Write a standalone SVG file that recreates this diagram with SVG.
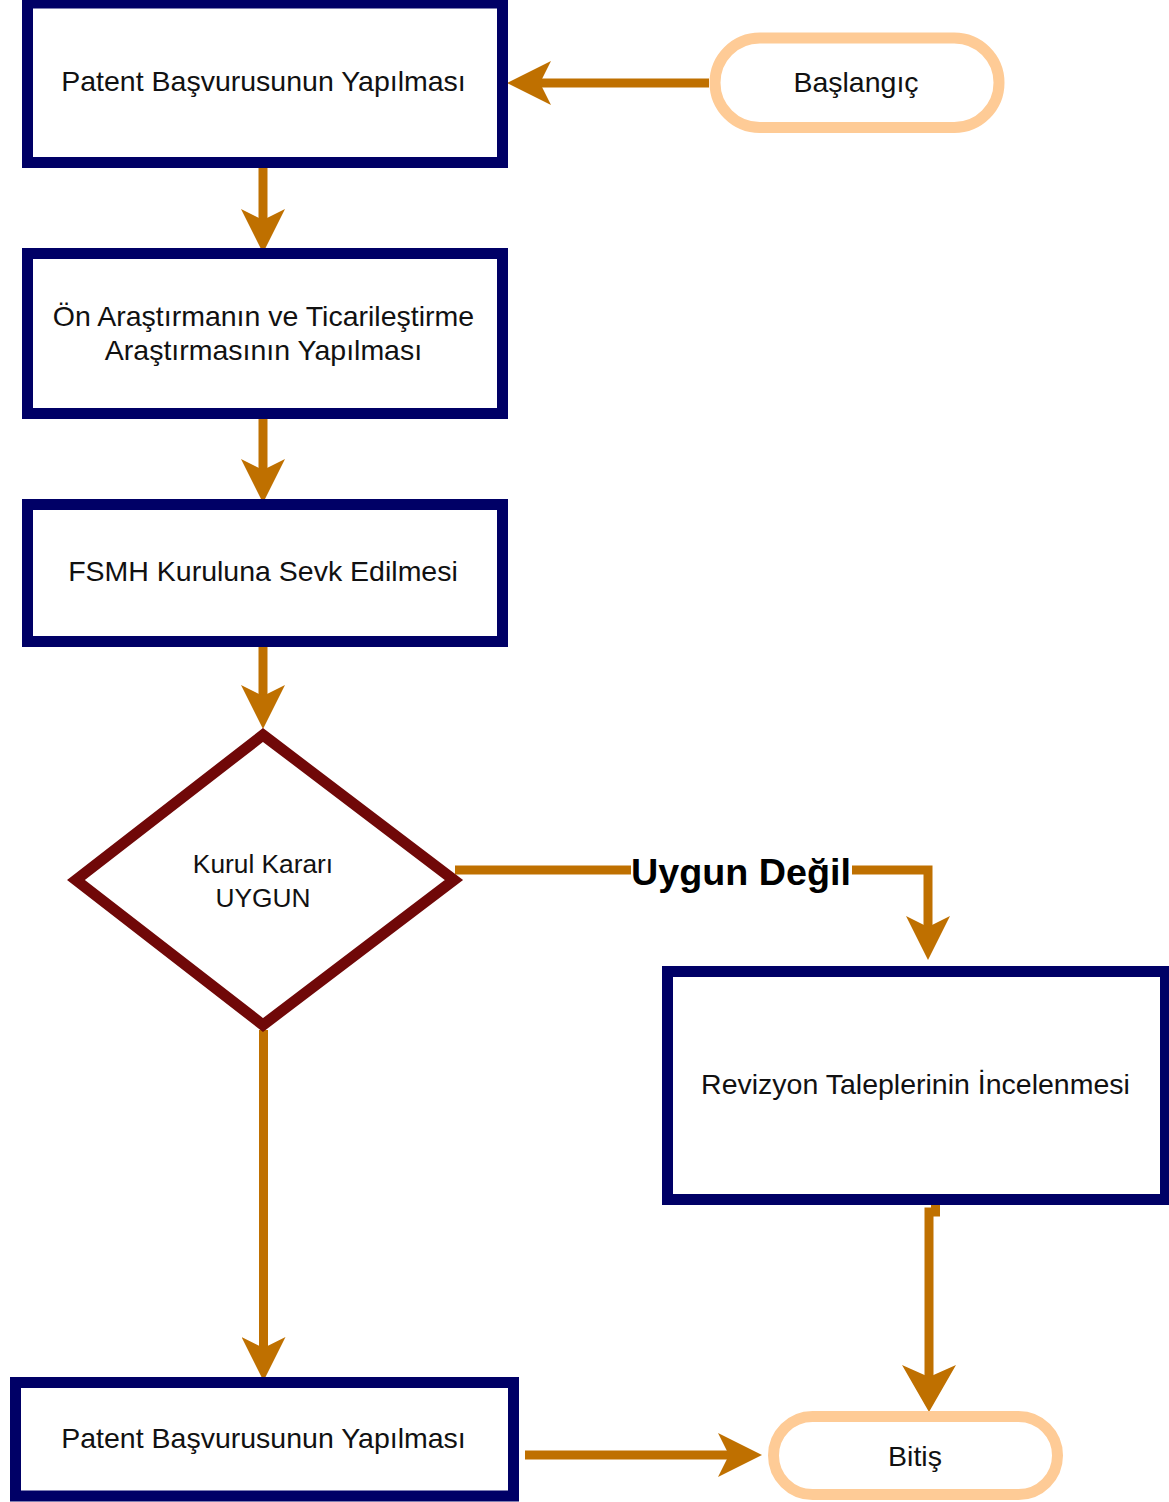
<svg xmlns="http://www.w3.org/2000/svg" width="1169" height="1502" viewBox="0 0 1169 1502">
<style>
.box{fill:#ffffff;stroke:#000066;stroke-width:11}
.pill{fill:#ffffff;stroke:#FECB96;stroke-width:11}
.dia{fill:#ffffff;stroke:#700808;stroke-width:11;stroke-linejoin:miter}
.t{font-family:"Liberation Sans",Arial,sans-serif;font-size:28.5px;fill:#111111;text-anchor:middle}
.ts{font-family:"Liberation Sans",Arial,sans-serif;font-size:26.3px;fill:#111111;text-anchor:middle}
.lbl{font-family:"Liberation Sans",Arial,sans-serif;font-size:37.7px;font-weight:bold;fill:#000000;text-anchor:middle}
.c{fill:none;stroke:#BF7000;stroke-width:9;marker-end:url(#head)}
.cl{fill:none;stroke:#BF7000;stroke-width:9;marker-end:url(#headL)}
</style>
<defs>
<marker id="head" markerUnits="userSpaceOnUse" viewBox="0 0 44 44" refX="11" refY="22" markerWidth="44" markerHeight="44" orient="auto">
<path d="M44,22 L0,0 L11,22 L0,44 Z" fill="#BF7000"/>
</marker>
<marker id="headL" markerUnits="userSpaceOnUse" viewBox="0 0 47 54" refX="12" refY="27" markerWidth="47" markerHeight="54" orient="auto">
<path d="M47,27 L0,0 L12,27 L0,54 Z" fill="#BF7000"/>
</marker>
</defs>
<rect width="1169" height="1502" fill="#ffffff"/>
<g id="connectors">
<path class="c" d="M709,83 H540"/>
<path class="c" d="M263,163 V220"/>
<path class="c" d="M263,419 V470"/>
<path class="c" d="M263,647 V696"/>
<path class="c" d="M263.5,1030 V1348"/>
<path class="c" d="M455,870 H928 V927"/>
<path class="cl" d="M935.5,1205 V1212 H929 V1377"/>
<path class="c" d="M525,1455 H729"/>
</g>
<g id="label-uygun-degil">
<rect x="631" y="852" width="221" height="41" fill="#ffffff"/>
<text class="lbl" x="741" y="885">Uygun Değil</text>
</g>
<g id="node-baslangic">
<rect class="pill" x="715" y="38" width="284" height="89.5" rx="44.75" ry="44.75"/>
<text class="t" x="856" y="92">Başlangıç</text>
</g>
<g id="node-patent-1">
<rect class="box" x="27.5" y="3" width="475" height="159.5"/>
<text class="t" x="263.5" y="91">Patent Başvurusunun Yapılması</text>
</g>
<g id="node-on-arastirma">
<rect class="box" x="27.5" y="253.5" width="475" height="160"/>
<text class="t" x="263.5" y="326">Ön Araştırmanın ve Ticarileştirme</text>
<text class="t" x="263.5" y="360">Araştırmasının Yapılması</text>
</g>
<g id="node-fsmh">
<rect class="box" x="27.5" y="504.5" width="475" height="137"/>
<text class="t" x="263" y="581">FSMH Kuruluna Sevk Edilmesi</text>
</g>
<g id="node-kurul-karari">
<polygon class="dia" points="263,735 454,880 263,1025 76,880"/>
<text class="ts" x="263" y="873">Kurul Kararı</text>
<text class="ts" x="263" y="907">UYGUN</text>
</g>
<g id="node-revizyon">
<rect class="box" x="667.5" y="971.5" width="498" height="228"/>
<text class="t" x="915.5" y="1094">Revizyon Taleplerinin İncelenmesi</text>
</g>
<g id="node-patent-2">
<rect class="box" x="15.5" y="1382.5" width="498" height="113.5"/>
<text class="t" x="263.5" y="1448">Patent Başvurusunun Yapılması</text>
</g>
<g id="node-bitis">
<rect class="pill" x="773.5" y="1416.5" width="284" height="78" rx="39" ry="39"/>
<text class="t" x="915" y="1466">Bitiş</text>
</g>
</svg>
